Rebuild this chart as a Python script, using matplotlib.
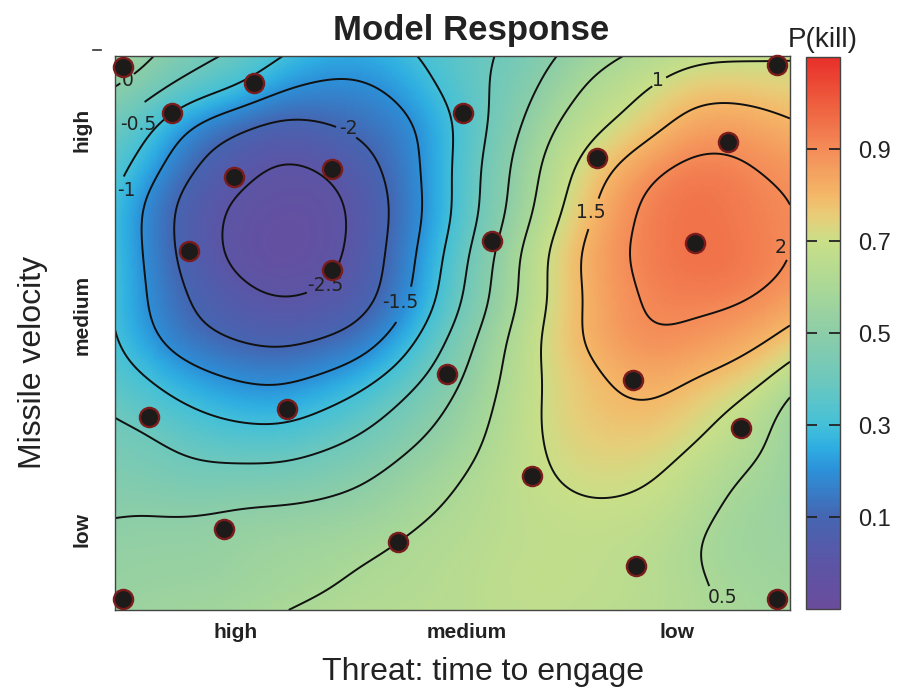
import numpy as np
import matplotlib
matplotlib.use("Agg")
import matplotlib.pyplot as plt
from matplotlib.colors import LinearSegmentedColormap, Normalize
from matplotlib.tri import Triangulation, CubicTriInterpolator
from matplotlib.cm import ScalarMappable
from matplotlib.lines import Line2D

plt.rcParams['font.family'] = ['Liberation Sans', 'DejaVu Sans']

# ---------------- data ----------------
# model response (logit scale) on a coarse grid
grid_x = np.linspace(-1.025, 1.041, 10)   # threat: time to engage (coded)
grid_y = np.linspace(1.032, -1.043, 9)    # missile velocity (coded), top row first
logit_grid = [
    [0.40, -0.33, -0.84, -1.30, -1.02, -0.53, 0.08, 0.60, 0.92, 0.96],
    [-0.50, -1.45, -2.05, -1.97, -1.50, -0.47, 0.60, 1.25, 1.76, 1.56],
    [-1.00, -2.15, -2.62, -2.52, -1.62, -0.32, 0.98, 1.99, 2.24, 1.99],
    [-1.03, -2.16, -2.72, -2.51, -1.50, -0.05, 1.30, 2.08, 2.28, 1.99],
    [-1.00, -1.85, -2.18, -2.00, -1.10, 0.20, 1.32, 1.95, 1.85, 1.42],
    [-0.60, -1.05, -1.30, -1.00, -0.35, 0.45, 1.20, 1.50, 1.15, 0.42],
    [-0.23, -0.39, -0.40, -0.21, 0.20, 0.65, 1.05, 1.08, 0.68, 0.24],
    [0.09, 0.12, 0.25, 0.36, 0.55, 0.75, 0.85, 0.78, 0.42, 0.25],
    [0.22, 0.32, 0.45, 0.60, 0.68, 0.78, 0.82, 0.72, 0.51, 0.33],
]
# values read at the centre of each grid cell
centre_x = (grid_x[:-1] + grid_x[1:]) / 2
centre_y = (grid_y[:-1] + grid_y[1:]) / 2
logit_centre = [
    [-0.40, -1.02, -1.58, -1.53, -0.86, -0.10, 0.69, 1.23, 1.33],
    [-1.28, -2.24, -2.48, -2.00, -1.00, 0.27, 1.29, 1.98, 1.97],
    [-1.69, -2.55, -2.77, -2.16, -0.94, 0.50, 1.70, 2.25, 2.15],
    [-1.58, -2.29, -2.48, -2.00, -0.69, 0.67, 1.72, 2.12, 2.00],
    [-1.15, -1.63, -1.67, -1.18, -0.20, 0.84, 1.53, 1.69, 1.30],
    [-0.50, -0.79, -0.76, -0.35, 0.22, 0.89, 1.28, 1.15, 0.64],
    [-0.05, -0.03, 0.04, 0.23, 0.55, 0.85, 0.97, 0.78, 0.34],
    [0.20, 0.25, 0.40, 0.56, 0.70, 0.85, 0.82, 0.62, 0.35],
]

# design points (coded units)
pts_x = [-1.00, -0.60, -0.85, 0.04, 1.00, 0.85, 0.45, -0.66, -0.36, -0.80, 0.13, 0.75,
         -0.36, -0.01, 0.56, -0.92, -0.50, 0.89, 0.25, -0.69, -0.16, 0.57, -1.00, 1.00]
pts_y = [0.99, 0.93, 0.82, 0.82, 1.00, 0.71, 0.65, 0.58, 0.61, 0.30, 0.34, 0.33,
         0.23, -0.16, -0.18, -0.32, -0.29, -0.36, -0.54, -0.74, -0.79, -0.88, -1.00, -1.00]

contour_levels = [-2.5, -2, -1.5, -1, -0.5, 0, 0.5, 1, 1.5, 2]
label_levels = [0, -0.5, -1, -2, -2.5, -1.5, 1, 1.5, 2, 0.5]
label_spots = [(-0.985, 0.942), (-0.955, 0.777), (-0.99, 0.530), (-0.311, 0.762),
               (-0.382, 0.174), (-0.152, 0.107), (0.637, 0.942), (0.432, 0.444),
               (1.012, 0.316), (0.836, -0.998)]

x_tick_pos = [-0.657, 0.05, 0.696]
x_tick_labels = ['high', 'medium', 'low']
y_tick_pos = [0.754, 0.062, -0.743]
y_tick_labels = ['high', 'medium', 'low']
cbar_ticks = [0.1, 0.3, 0.5, 0.7, 0.9]
cbar_range = (-0.1, 1.1)

# ---------------- colormap ----------------
stops = [(-0.10, '#6a4c9c'), (0.00, '#5c55a6'), (0.10, '#4566b2'), (0.20, '#2c90d8'),
         (0.25, '#2eaee2'), (0.30, '#44c0d8'), (0.40, '#6ec8bc'), (0.50, '#8ccda8'),
         (0.60, '#aad897'), (0.70, '#c9df88'), (0.75, '#e6cf7a'), (0.80, '#f4b868'),
         (0.90, '#f48c58'), (1.00, '#ee5e3e'), (1.10, '#e8302a')]
cmap = LinearSegmentedColormap.from_list(
    'pk', [((c - cbar_range[0]) / (cbar_range[1] - cbar_range[0]), col) for c, col in stops])

# ---------------- surface (library interpolation + light smoothing) ----------------
GX, GY = np.meshgrid(grid_x, grid_y)
CX, CY = np.meshgrid(centre_x, centre_y)
all_x = np.concatenate([GX.ravel(), CX.ravel()])
all_y = np.concatenate([GY.ravel(), CY.ravel()])
all_z = np.concatenate([np.ravel(logit_grid), np.ravel(logit_centre)])
tri = Triangulation(all_x, all_y)
interp = CubicTriInterpolator(tri, all_z, kind='min_E')

eps = 1e-6
fx = np.linspace(grid_x[0] + eps, grid_x[-1] - eps, 271)
fy = np.linspace(grid_y[-1] + eps, grid_y[0] - eps, 223)
FX, FY = np.meshgrid(fx, fy)
FZ = np.asarray(interp(FX, FY).filled(np.nan))


def smooth(a, sigma_cells):
    r = int(3 * sigma_cells)
    k = np.exp(-0.5 * (np.arange(-r, r + 1) / sigma_cells) ** 2)
    k /= k.sum()
    p = np.pad(a, r, mode='reflect', reflect_type='odd')
    p = np.apply_along_axis(lambda v: np.convolve(v, k, mode='valid'), 0, p)
    p = np.apply_along_axis(lambda v: np.convolve(v, k, mode='valid'), 1, p)
    return p


FZ = smooth(FZ, 5.5)

# ---------------- figure ----------------
W, H = 905, 688
fig = plt.figure(figsize=(W / 100, H / 100), dpi=100)
ax = fig.add_axes([115 / W, 1 - 610 / H, 675 / W, 554 / H])
cax = fig.add_axes([806 / W, 1 - 609 / H, 34 / W, 552 / H])

# colour is linear in logit: P-scale value = 0.5 + 0.2*z  -> z range -3..3
ax.pcolormesh(FX, FY, FZ, shading='gouraud', cmap=cmap, norm=Normalize(-3, 3), zorder=1)
cs = ax.contour(FX, FY, FZ, levels=contour_levels, colors='#111111',
                linewidths=1.4, linestyles='solid', zorder=2)
labels = ax.clabel(cs, fmt=lambda v: f"{v:g}", manual=label_spots, inline=True,
                   fontsize=13.5, colors='#222222', inline_spacing=3)
for t, spot, lev in zip(labels, label_spots, label_levels):
    t.set_family('DejaVu Sans')
    t.set_rotation(0)
    t.set_position(spot)
    t.set_text(f"{lev:g}")
    t.set_clip_on(False)

ax.scatter(pts_x, pts_y, s=190, c='#1d1a1a', edgecolors='#7a1c1c', linewidths=1.7,
           zorder=5, clip_on=False)

ax.set_xlim(grid_x[0], grid_x[-1])
ax.set_ylim(grid_y[-1], grid_y[0])
ax.set_xticks(x_tick_pos)
ax.set_xticklabels(x_tick_labels, fontsize=15, fontweight='bold', color='#222222')
ax.set_yticks(y_tick_pos)
ax.set_yticklabels(y_tick_labels, fontsize=15, fontweight='bold', color='#222222',
                   rotation=90, va='center')
ax.tick_params(axis='x', length=0, pad=9)
ax.tick_params(axis='y', length=0, pad=17)
for sp in ax.spines.values():
    sp.set_color('#444444')
    sp.set_linewidth(1.0)

sm = ScalarMappable(norm=Normalize(*cbar_range), cmap=cmap)
cb = fig.colorbar(sm, cax=cax)
cb.set_ticks(cbar_ticks)
cb.set_ticklabels([f"{t:g}" for t in cbar_ticks])
cax.tick_params(direction='in', left=True, right=True, length=8, width=1.3,
                color='#222222', labelsize=17, pad=13, labelcolor='#222222')
cb.outline.set_edgecolor('#444444')
cb.outline.set_linewidth(1.0)

fig.text(471 / W, 1 - 40 / H, 'Model Response', fontsize=25, fontweight='bold',
         ha='center', va='baseline', color='#222222')
fig.text(823 / W, 1 - 47 / H, 'P(kill)', fontsize=20, ha='center', va='baseline',
         color='#222222')
fig.text(483 / W, 1 - 680 / H, 'Threat: time to engage', fontsize=23, ha='center',
         va='baseline', color='#222222')
fig.text(33 / W, 1 - 362 / H, 'Missile velocity', fontsize=23, ha='center', va='center',
         rotation=90, color='#222222')
fig.add_artist(Line2D([93 / W, 101 / W], [1 - 50 / H, 1 - 50 / H], color='#333333',
                      linewidth=1.2))

fig.savefig('out.png', dpi=100)
